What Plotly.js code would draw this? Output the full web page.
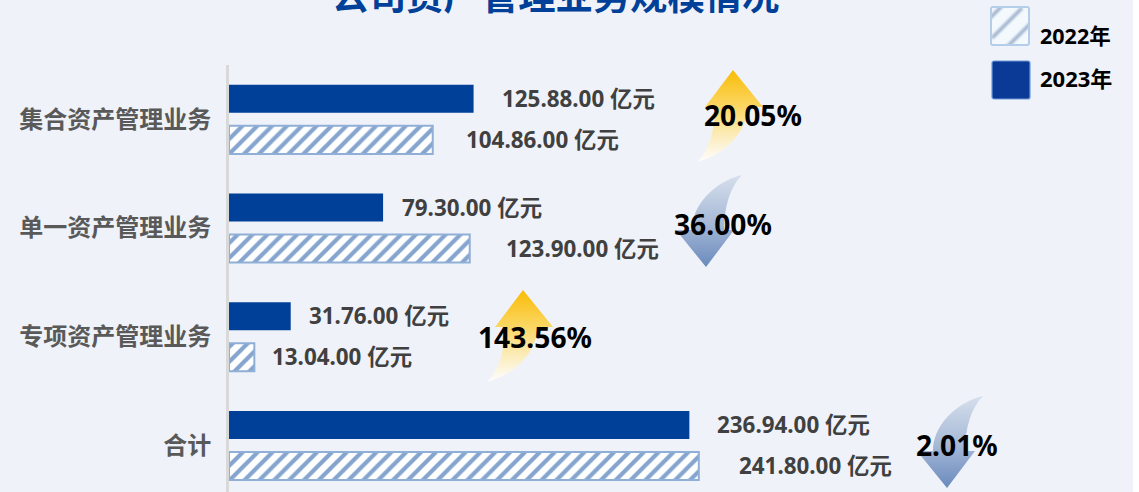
<!DOCTYPE html>
<html><head><meta charset="utf-8">
<script src="https://cdn.plot.ly/plotly-3.0.1.min.js"></script>
<style>html,body{margin:0;padding:0;background:#fff;overflow:hidden}#c{width:1133px;height:492px}</style>
</head><body><div id="c"></div>
<script>
const categories = ['集合资产管理业务','单一资产管理业务','专项资产管理业务','合计'];
const values2023 = [125.88, 79.30, 31.76, 236.94];
const values2022 = [104.86, 123.90, 13.04, 241.80];
const labels2023 = ['125.88.00 亿元','79.30.00 亿元','31.76.00 亿元','236.94.00 亿元'];
const labels2022 = ['104.86.00 亿元','123.90.00 亿元','13.04.00 亿元','241.80.00 亿元'];
const labelGap2023 = [26, 17, 16, 26];
const labelGap2022 = [31, 34, 16, 38];
const changes = ['20.05%','36.00%','143.56%','2.01%'];
const directions = ['up','down','up','down'];
const changeCentreX = [753, 723, 534.5, 956.5];
const changeShift = [4, 4, 0, 0];
const arrowLeft = [697, 676, 487, 917];
const arrowTop = [70, 175, 290, 396];

const W = 1133, H = 492, ML = 229, MT = 65;
const px = v => (v - ML) / (W - ML);
const py = v => 1 - (v - MT) / (H - MT);
const PATH = 'M36 0 L66 37 L50 37 C50 62 28 85 0 92 C12 80 18 60 18 37 L8 37 Z';
function uri(s){ return 'data:image/svg+xml;utf8,' + encodeURIComponent(s); }
function arrowSvg(dir){
  const stops = dir === 'up'
    ? '<stop offset="0" stop-color="#F9BC06"/><stop offset="0.45" stop-color="#FBDA70"/><stop offset="1" stop-color="#FFFFFF" stop-opacity="0.85"/>'
    : '<stop offset="0" stop-color="#6A8ABD"/><stop offset="0.5" stop-color="#A9BBD8"/><stop offset="1" stop-color="#D6DFEC"/>';
  const tf = dir === 'up' ? '' : ' transform="rotate(180 33 46)"';
  return uri('<svg xmlns="http://www.w3.org/2000/svg" width="66" height="92" viewBox="0 0 66 92"><defs><linearGradient id="g" x1="0" y1="0" x2="0" y2="1">'+stops+'</linearGradient></defs><path d="'+PATH+'" fill="url(#g)"'+tf+'/></svg>');
}
const hatchSwatch = uri('<svg xmlns="http://www.w3.org/2000/svg" width="40" height="40" viewBox="0 0 40 40"><defs><filter id="b" x="-10%" y="-10%" width="120%" height="120%"><feGaussianBlur stdDeviation="1"/></filter><clipPath id="k"><rect x="1" y="1" width="38" height="38" rx="2"/></clipPath></defs><g clip-path="url(#k)"><rect width="40" height="40" fill="#F4F9FE"/><path d="M-2 14 L14 -2 M2 32 L32 2 M16 42 L42 16" stroke="#A2B5CF" stroke-width="3.5" filter="url(#b)"/></g><rect x="1" y="1" width="38" height="38" rx="2" fill="none" stroke="#B4CDE8" stroke-width="2"/></svg>');
const solidSwatch = uri('<svg xmlns="http://www.w3.org/2000/svg" width="40" height="40" viewBox="0 0 40 40"><rect x="1" y="1" width="38" height="38" rx="2" fill="#0A3A96" stroke="#6F9AD8" stroke-width="1.2"/></svg>');

const images = [];
directions.forEach((d,i)=>images.push({source:arrowSvg(d),xref:'paper',yref:'paper',x:px(arrowLeft[i]),y:py(arrowTop[i]),sizex:66/(W-ML),sizey:92/(H-MT),xanchor:'left',yanchor:'top',sizing:'stretch',layer:'above'}));
images.push({source:hatchSwatch,xref:'paper',yref:'paper',x:px(990),y:py(6),sizex:40/(W-ML),sizey:40/(H-MT),xanchor:'left',yanchor:'top',sizing:'stretch',layer:'above'});
images.push({source:solidSwatch,xref:'paper',yref:'paper',x:px(991),y:py(60),sizex:40/(W-ML),sizey:40/(H-MT),xanchor:'left',yanchor:'top',sizing:'stretch',layer:'above'});

const FONT = '"Noto Sans","Noto Sans CJK SC",sans-serif';
const CJK = '"Noto Sans CJK SC","Noto Sans",sans-serif';
const annotations = [];
categories.forEach((c,i)=>{
  annotations.push({x:values2023[i],y:c,xref:'x',yref:'y',text:'<b>'+labels2023[i]+'</b>',showarrow:false,xanchor:'left',yanchor:'middle',xshift:labelGap2023[i],yshift:21,font:{family:FONT,size:22.4,color:'#404040'}});
  annotations.push({x:values2022[i],y:c,xref:'x',yref:'y',text:'<b>'+labels2022[i]+'</b>',showarrow:false,xanchor:'left',yanchor:'middle',xshift:labelGap2022[i],yshift:-20,font:{family:FONT,size:22.4,color:'#404040'}});
  annotations.push({x:px(changeCentreX[i]),y:c,xref:'paper',yref:'y',text:'<b>'+changes[i]+'</b>',showarrow:false,xanchor:'center',yanchor:'middle',yshift:changeShift[i],font:{family:FONT,size:28.2,color:'#000000'}});
});
annotations.push({x:px(1075),y:py(36),xref:'paper',yref:'paper',text:'<b>2022年</b>',showarrow:false,xanchor:'center',yanchor:'middle',font:{family:FONT,size:21.5,color:'#000000'}});
annotations.push({x:px(1075.5),y:py(78),xref:'paper',yref:'paper',text:'<b>2023年</b>',showarrow:false,xanchor:'center',yanchor:'middle',font:{family:FONT,size:22,color:'#000000'}});

const traces = [
  {type:'bar',orientation:'h',name:'2023年',y:categories,x:values2023,marker:{color:'#004098',line:{width:0}},hoverinfo:'x+y'},
  {type:'bar',orientation:'h',name:'2022年',y:categories,x:values2022,marker:{color:'#FFFFFF',line:{color:'#8FAFD6',width:2},pattern:{shape:'/',fgcolor:'#85A5CF',bgcolor:'#FFFFFF',size:10.5,solidity:0.4}},hoverinfo:'x+y'}
];
const layout = {
  width:W,height:H,showlegend:false,paper_bgcolor:'#EFF2F8',plot_bgcolor:'rgba(0,0,0,0)',
  margin:{l:ML,r:0,t:MT,b:0,pad:0},
  barmode:'group',bargap:0.245,bargroupgap:0.317,
  title:{text:'<b>公司资产管理业务规模情况</b>',x:555.5/W,xanchor:'center',yref:'container',y:0.98,yanchor:'bottom',font:{family:CJK,size:37.3,color:'#004098'}},
  xaxis:{range:[0,(W-ML)/1.943],visible:false,fixedrange:true},
  yaxis:{type:'category',categoryorder:'array',categoryarray:categories,range:[3.428,-0.5],showgrid:false,zeroline:false,showline:true,linecolor:'#D9D9D9',linewidth:3,ticks:'',ticklabelstandoff:10,tickfont:{family:CJK,size:24,color:'#595959',weight:'bold'},fixedrange:true},
  annotations,images
};
Plotly.newPlot('c',traces,layout,{displayModeBar:false,staticPlot:true});
</script></body></html>
